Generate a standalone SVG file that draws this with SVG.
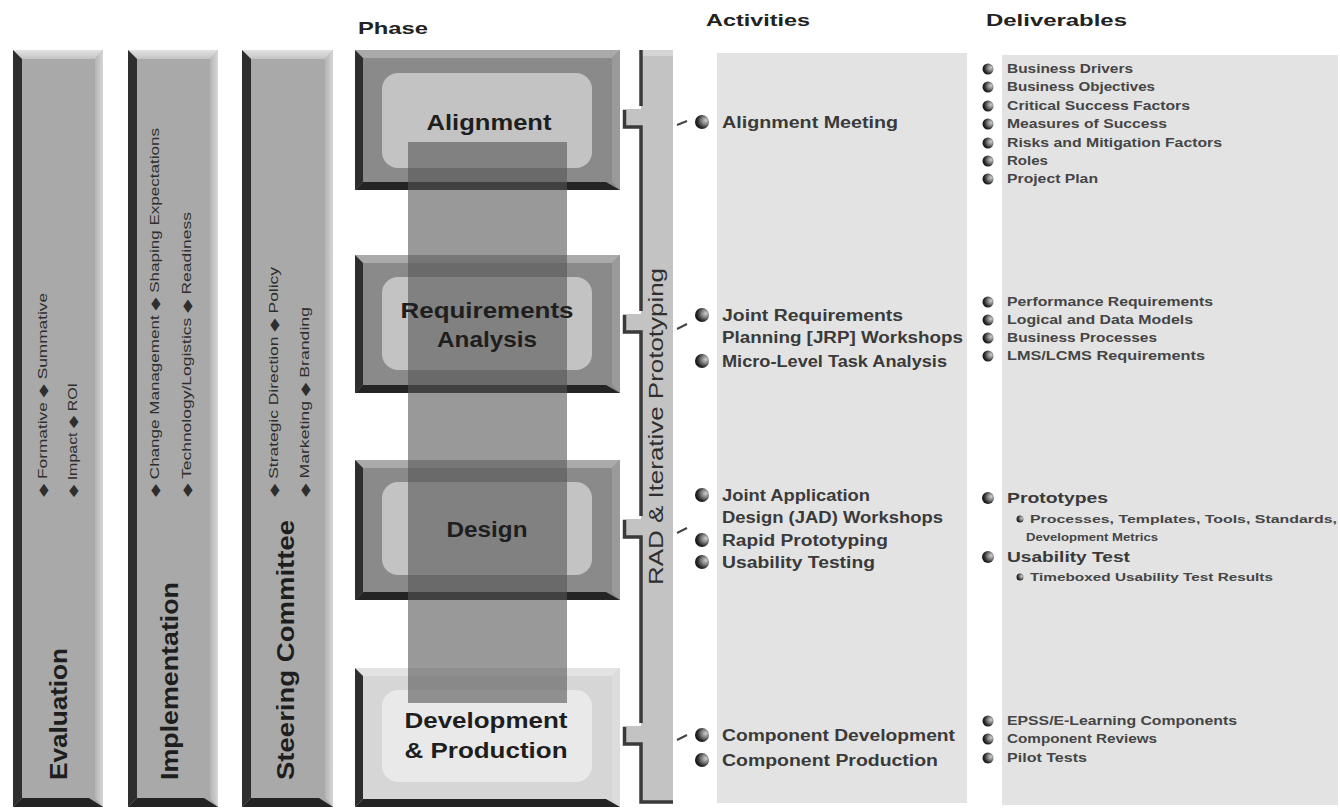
<svg xmlns="http://www.w3.org/2000/svg" width="1340" height="808" viewBox="0 0 1340 808">
<defs>
<radialGradient id="ball" cx="0.68" cy="0.42" r="0.7" fx="0.78" fy="0.38">
<stop offset="0" stop-color="#d0d0d0"/>
<stop offset="0.4" stop-color="#808080"/>
<stop offset="0.75" stop-color="#2a2a2a"/>
<stop offset="1" stop-color="#0e0e0e"/>
</radialGradient>
<linearGradient id="topL" x1="0" y1="0" x2="0" y2="1">
<stop offset="0" stop-color="#e2e2e2"/>
<stop offset="1" stop-color="#c4c4c4"/>
</linearGradient>
<linearGradient id="rightL" x1="0" y1="0" x2="1" y2="0">
<stop offset="0" stop-color="#b4b4b4"/>
<stop offset="1" stop-color="#d6d6d6"/>
</linearGradient>
</defs>
<style>
.t{font-family:"Liberation Sans",Arial,sans-serif;}
.hd{font-family:"Liberation Sans",Arial,sans-serif;font-weight:bold;font-size:17px;fill:#222;}
.big{font-family:"Liberation Sans",Arial,sans-serif;font-weight:bold;font-size:24px;fill:#1e1e1e;}
.sm{font-family:"Liberation Sans","DejaVu Sans",sans-serif;font-size:12px;fill:#2e2e2e;}
.ph{font-family:"Liberation Sans",Arial,sans-serif;font-weight:bold;font-size:22px;fill:#1e1e1e;text-anchor:middle;}
.act{font-family:"Liberation Sans",Arial,sans-serif;font-weight:bold;font-size:16px;fill:#3a3a3a;}
.del{font-family:"Liberation Sans",Arial,sans-serif;font-weight:bold;font-size:12px;fill:#454545;}
.del2{font-family:"Liberation Sans",Arial,sans-serif;font-weight:bold;font-size:15px;fill:#3a3a3a;}
.del3{font-family:"Liberation Sans",Arial,sans-serif;font-weight:bold;font-size:11px;fill:#454545;}
.bar{fill:#a9a9a9;}
.dk{fill:#2e2e2e;}
.dkb{fill:#242424;}
.pbox{fill:#8a8a8a;}
.pboxL{fill:#d6d6d6;}
.inner{fill:#c3c3c3;}
.innerL{fill:#e9e9e9;}
.panel{fill:#e3e3e3;}
.b{fill:url(#ball);}
.dash{stroke:#444;stroke-width:2;fill:none;}
.edge{stroke:#3a3a3a;stroke-width:3.5;fill:none;}
</style>
<rect width="1340" height="808" fill="#ffffff"/>

<!-- headers -->
<text class="hd" x="358" y="34" textLength="70" lengthAdjust="spacingAndGlyphs">Phase</text>
<text class="hd" x="706" y="26" textLength="104" lengthAdjust="spacingAndGlyphs">Activities</text>
<text class="hd" x="986" y="26" textLength="141" lengthAdjust="spacingAndGlyphs">Deliverables</text>

<!-- Left bars -->
<g id="evaluation">
<rect class="bar" x="13" y="50" width="90" height="757"/>
<polygon fill="url(#topL)" points="13,50 103,50 95,59 22,59"/>
<polygon fill="url(#rightL)" points="103,50 103,807 95,798 95,59"/>
<polygon class="dk" points="13,50 22,59 22,798 13,807"/>
<polygon class="dkb" points="13,807 22,798 89,798 103,807"/>
<text class="big" transform="translate(67,780) rotate(-90)" textLength="132" lengthAdjust="spacingAndGlyphs">Evaluation</text>
<text class="sm" transform="translate(46.5,497) rotate(-90)" textLength="204" lengthAdjust="spacingAndGlyphs">◆ Formative ◆ Summative</text>
<text class="sm" transform="translate(77,497) rotate(-90)" textLength="114" lengthAdjust="spacingAndGlyphs">◆ Impact ◆ ROI</text>
</g>
<g id="implementation">
<rect class="bar" x="128" y="50" width="90" height="757"/>
<polygon fill="url(#topL)" points="128,50 218,50 210,59 137,59"/>
<polygon fill="url(#rightL)" points="218,50 218,807 210,798 210,59"/>
<polygon class="dk" points="128,50 137,59 137,798 128,807"/>
<polygon class="dkb" points="128,807 137,798 204,798 218,807"/>
<text class="big" transform="translate(178,780) rotate(-90)" textLength="198" lengthAdjust="spacingAndGlyphs">Implementation</text>
<text class="sm" transform="translate(159,497) rotate(-90)" textLength="369" lengthAdjust="spacingAndGlyphs">◆ Change Management ◆ Shaping Expectations</text>
<text class="sm" transform="translate(191,497) rotate(-90)" textLength="285" lengthAdjust="spacingAndGlyphs">◆ Technology/Logistics ◆ Readiness</text>
</g>
<g id="steering">
<rect class="bar" x="242" y="50" width="91" height="757"/>
<polygon fill="url(#topL)" points="242,50 333,50 325,59 251,59"/>
<polygon fill="url(#rightL)" points="333,50 333,807 325,798 325,59"/>
<polygon class="dk" points="242,50 251,59 251,798 242,807"/>
<polygon class="dkb" points="242,807 251,798 319,798 333,807"/>
<text class="big" transform="translate(294,780) rotate(-90)" textLength="260" lengthAdjust="spacingAndGlyphs">Steering Committee</text>
<text class="sm" transform="translate(277.5,497) rotate(-90)" textLength="230" lengthAdjust="spacingAndGlyphs">◆ Strategic Direction ◆ Policy</text>
<text class="sm" transform="translate(309,497) rotate(-90)" textLength="190" lengthAdjust="spacingAndGlyphs">◆ Marketing ◆ Branding</text>
</g>

<!-- Panels -->
<rect id="activities-panel" class="panel" x="717" y="53" width="250" height="750"/>
<rect id="deliverables-panel" class="panel" x="1002" y="55" width="336" height="750"/>

<!-- RAD bar -->
<g id="rad">
<rect x="641" y="50" width="32" height="753" fill="#c3c3c3"/>
<rect x="641" y="50" width="32" height="6" fill="#d4d4d4"/>
<rect x="623" y="109" width="19" height="18" fill="#c3c3c3"/>
<rect x="623" y="314" width="19" height="18" fill="#c3c3c3"/>
<rect x="623" y="519" width="19" height="18" fill="#c3c3c3"/>
<rect x="623" y="726" width="19" height="18" fill="#c3c3c3"/>
<path class="edge" d="M641,50 V106 M624.5,110 V127 H641 V311 M624.5,315 V332 H641 V516 M624.5,520 V537 H641 V723 M624.5,727 V744 H641 V802 H673"/>
<text class="t" transform="translate(663,585) rotate(-90)" font-size="20" fill="#2f2f2f" textLength="317" lengthAdjust="spacingAndGlyphs">RAD &amp; Iterative Prototyping</text>
</g>

<!-- Phase boxes -->
<g id="phase-alignment">
<rect class="pbox" x="355" y="50" width="265" height="140"/>
<polygon fill="#aaaaaa" points="355,50 620,50 612,58 363,58"/>
<polygon fill="#9a9a9a" points="620,50 620,190 612,182 612,58"/>
<polygon class="dk" points="355,50 363,58 363,182 355,190"/>
<polygon class="dkb" points="355,190 363,182 606,182 620,190"/>
<rect class="inner" x="382" y="73" width="210" height="95" rx="16"/>
</g>
<g id="phase-requirements">
<rect class="pbox" x="355" y="255" width="265" height="138"/>
<polygon fill="#aaaaaa" points="355,255 620,255 612,263 363,263"/>
<polygon fill="#9a9a9a" points="620,255 620,393 612,385 612,263"/>
<polygon class="dk" points="355,255 363,263 363,385 355,393"/>
<polygon class="dkb" points="355,393 363,385 606,385 620,393"/>
<rect class="inner" x="382" y="277" width="210" height="93" rx="16"/>
</g>
<g id="phase-design">
<rect class="pbox" x="355" y="460" width="265" height="140"/>
<polygon fill="#aaaaaa" points="355,460 620,460 612,468 363,468"/>
<polygon fill="#9a9a9a" points="620,460 620,600 612,592 612,468"/>
<polygon class="dk" points="355,460 363,468 363,592 355,600"/>
<polygon class="dkb" points="355,600 363,592 606,592 620,600"/>
<rect class="inner" x="382" y="482" width="210" height="93" rx="16"/>
</g>
<g id="phase-development">
<rect class="pboxL" x="355" y="668" width="265" height="139"/>
<polygon fill="#e3e3e3" points="355,668 620,668 612,676 363,676"/>
<polygon fill="#dcdcdc" points="620,668 620,807 612,799 612,676"/>
<polygon class="dk" points="355,668 363,676 363,799 355,807"/>
<polygon class="dkb" points="355,807 363,799 606,799 620,807"/>
<rect class="innerL" x="382" y="690" width="210" height="92" rx="16"/>
</g>

<!-- overlay band -->
<rect x="408" y="142" width="159" height="561" fill="#555555" opacity="0.6"/>

<!-- phase labels -->
<text class="ph" x="489" y="130" textLength="125" lengthAdjust="spacingAndGlyphs">Alignment</text>
<text class="ph" x="487" y="318" textLength="173" lengthAdjust="spacingAndGlyphs">Requirements</text>
<text class="ph" x="487" y="347" textLength="100" lengthAdjust="spacingAndGlyphs">Analysis</text>
<text class="ph" x="487" y="537" textLength="81" lengthAdjust="spacingAndGlyphs">Design</text>
<text class="ph" x="486" y="728" textLength="163" lengthAdjust="spacingAndGlyphs">Development</text>
<text class="ph" x="486" y="758" textLength="163" lengthAdjust="spacingAndGlyphs">&amp; Production</text>

<!-- connectors -->
<g id="connectors">
<path class="dash" d="M677,125 L687,121"/>
<path class="dash" d="M677,329 L687,324"/>
<path class="dash" d="M677,533 L687,528"/>
<path class="dash" d="M677,740 L687,735"/>
</g>

<!-- activities -->
<g id="act-alignment">
<circle class="b" cx="702" cy="122" r="7"/>
<text class="act" x="722" y="128" textLength="176" lengthAdjust="spacingAndGlyphs">Alignment Meeting</text>
</g>
<g id="act-requirements">
<circle class="b" cx="702" cy="315" r="7"/>
<text class="act" x="722" y="321" textLength="181" lengthAdjust="spacingAndGlyphs">Joint Requirements</text>
<text class="act" x="722" y="343" textLength="241" lengthAdjust="spacingAndGlyphs">Planning [JRP] Workshops</text>
<circle class="b" cx="702" cy="361" r="7"/>
<text class="act" x="722" y="367" textLength="225" lengthAdjust="spacingAndGlyphs">Micro-Level Task Analysis</text>
</g>
<g id="act-design">
<circle class="b" cx="702" cy="495" r="7"/>
<text class="act" x="722" y="501" textLength="148" lengthAdjust="spacingAndGlyphs">Joint Application</text>
<text class="act" x="722" y="523" textLength="221" lengthAdjust="spacingAndGlyphs">Design (JAD) Workshops</text>
<circle class="b" cx="702" cy="540" r="7"/>
<text class="act" x="722" y="546" textLength="166" lengthAdjust="spacingAndGlyphs">Rapid Prototyping</text>
<circle class="b" cx="702" cy="562" r="7"/>
<text class="act" x="722" y="568" textLength="153" lengthAdjust="spacingAndGlyphs">Usability Testing</text>
</g>
<g id="act-development">
<circle class="b" cx="702" cy="735" r="7"/>
<text class="act" x="722" y="741" textLength="233" lengthAdjust="spacingAndGlyphs">Component Development</text>
<circle class="b" cx="702" cy="760" r="7"/>
<text class="act" x="722" y="766" textLength="216" lengthAdjust="spacingAndGlyphs">Component Production</text>
</g>

<!-- deliverables -->
<g id="del-alignment">
<circle class="b" cx="988" cy="69" r="5.5"/>
<text class="del" x="1007" y="73" textLength="126" lengthAdjust="spacingAndGlyphs">Business Drivers</text>
<circle class="b" cx="988" cy="87" r="5.5"/>
<text class="del" x="1007" y="91" textLength="148" lengthAdjust="spacingAndGlyphs">Business Objectives</text>
<circle class="b" cx="988" cy="106" r="5.5"/>
<text class="del" x="1007" y="110" textLength="183" lengthAdjust="spacingAndGlyphs">Critical Success Factors</text>
<circle class="b" cx="988" cy="124" r="5.5"/>
<text class="del" x="1007" y="128" textLength="160" lengthAdjust="spacingAndGlyphs">Measures of Success</text>
<circle class="b" cx="988" cy="143" r="5.5"/>
<text class="del" x="1007" y="147" textLength="215" lengthAdjust="spacingAndGlyphs">Risks and Mitigation Factors</text>
<circle class="b" cx="988" cy="161" r="5.5"/>
<text class="del" x="1007" y="165" textLength="41" lengthAdjust="spacingAndGlyphs">Roles</text>
<circle class="b" cx="988" cy="179" r="5.5"/>
<text class="del" x="1007" y="183" textLength="91" lengthAdjust="spacingAndGlyphs">Project Plan</text>
</g>
<g id="del-requirements">
<circle class="b" cx="988" cy="302" r="5.5"/>
<text class="del" x="1007" y="306" textLength="206" lengthAdjust="spacingAndGlyphs">Performance Requirements</text>
<circle class="b" cx="988" cy="320" r="5.5"/>
<text class="del" x="1007" y="324" textLength="186" lengthAdjust="spacingAndGlyphs">Logical and Data Models</text>
<circle class="b" cx="988" cy="338" r="5.5"/>
<text class="del" x="1007" y="342" textLength="150" lengthAdjust="spacingAndGlyphs">Business Processes</text>
<circle class="b" cx="988" cy="356" r="5.5"/>
<text class="del" x="1007" y="360" textLength="198" lengthAdjust="spacingAndGlyphs">LMS/LCMS Requirements</text>
</g>
<g id="del-design">
<circle class="b" cx="988" cy="498" r="6"/>
<text class="del2" x="1007" y="503" textLength="101" lengthAdjust="spacingAndGlyphs">Prototypes</text>
<circle class="b" cx="1020" cy="519" r="3.5"/>
<text class="del3" x="1030" y="523" textLength="307" lengthAdjust="spacingAndGlyphs">Processes, Templates, Tools, Standards,</text>
<text class="del3" x="1026" y="541" textLength="132" lengthAdjust="spacingAndGlyphs">Development Metrics</text>
<circle class="b" cx="988" cy="557" r="6"/>
<text class="del2" x="1007" y="562" textLength="123" lengthAdjust="spacingAndGlyphs">Usability Test</text>
<circle class="b" cx="1020" cy="577" r="3.5"/>
<text class="del3" x="1030" y="581" textLength="243" lengthAdjust="spacingAndGlyphs">Timeboxed Usability Test Results</text>
</g>
<g id="del-development">
<circle class="b" cx="988" cy="721" r="5.5"/>
<text class="del" x="1007" y="725" textLength="230" lengthAdjust="spacingAndGlyphs">EPSS/E-Learning Components</text>
<circle class="b" cx="988" cy="739" r="5.5"/>
<text class="del" x="1007" y="743" textLength="150" lengthAdjust="spacingAndGlyphs">Component Reviews</text>
<circle class="b" cx="988" cy="758" r="5.5"/>
<text class="del" x="1007" y="762" textLength="80" lengthAdjust="spacingAndGlyphs">Pilot Tests</text>
</g>
</svg>
